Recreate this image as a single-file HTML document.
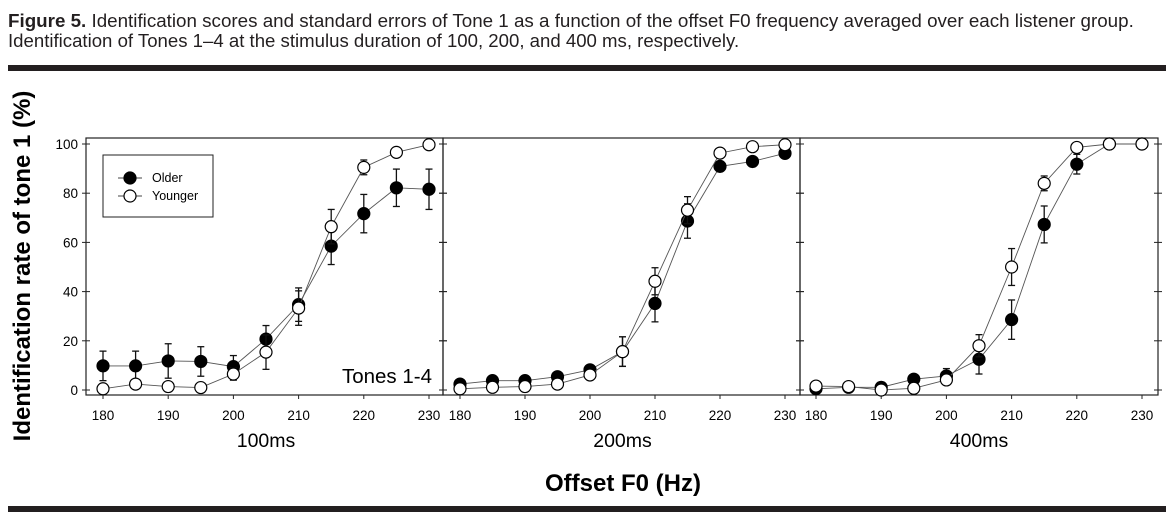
<!DOCTYPE html>
<html><head><meta charset="utf-8">
<style>
html,body{margin:0;padding:0;background:#fff;width:1174px;height:523px;overflow:hidden}
svg{display:block;font-family:"Liberation Sans",Arial,sans-serif}
</style></head>
<body>
<svg id="chart" width="1174" height="523" viewBox="0 0 1174 523">
<text x="8" y="27" font-size="18.8" fill="#231f20"><tspan font-weight="bold">Figure 5.</tspan> Identification scores and standard errors of Tone 1 as a function of the offset F0 frequency averaged over each listener group.</text>
<text x="8" y="47" font-size="18.6" fill="#231f20">Identification of Tones 1–4 at the stimulus duration of 100, 200, and 400 ms, respectively.</text>
<rect x="8" y="65" width="1158" height="6" fill="#231f20"/>
<rect x="8" y="506" width="1158" height="6" fill="#231f20"/>
<text transform="translate(30,266) rotate(-90)" text-anchor="middle" font-size="24" font-weight="bold">Identification rate of tone 1 (%)</text>
<text x="623" y="491" text-anchor="middle" font-size="24" font-weight="bold">Offset F0 (Hz)</text>
<g id="plots"></g>
</svg>
<script>
const xTicks = [180,190,200,210,220,230];
const yTicks = [0,20,40,60,80,100];
const xVals = [180,185,190,195,200,205,210,215,220,225,230];
const panelNames = ["100ms","200ms","400ms"];
const older100 = [9.8,9.8,11.8,11.6,9.5,20.7,34.7,58.5,71.7,82.2,81.6];
const olderErr100 = [6,6,7,6,4.5,5.5,6.8,7.5,7.8,7.6,8.2];
const younger100 = [0.5,2.4,1.4,1,6.5,15.4,33.3,66.4,90.5,96.6,99.7];
const youngerErr100 = [0.5,0.5,0.5,0.5,2.5,7,7,7,3,0.5,0.5];
const older200 = [2.4,3.8,3.8,5.4,8.2,15.6,35.2,68.7,90.9,92.9,96.2];
const olderErr200 = [1,1,1,1.5,2,6,7.5,7,2,2,1.5];
const younger200 = [0.5,1.1,1.4,2.4,6.1,15.6,44.2,73.1,96.3,98.9,99.7];
const youngerErr200 = [0.5,0.5,0.5,0.5,2,6,5.5,5.5,1.5,0.5,0.5];
const older400 = [0.5,1.1,1.1,4.4,5.7,12.5,28.6,67.3,91.8,100,100];
const olderErr400 = [0.5,0.5,0.5,1.5,3,6,8,7.5,4,0.3,0.3];
const younger400 = [1.6,1.4,0,0.7,4.1,18,50,84,98.6,100,100];
const youngerErr400 = [0.5,0.5,0.5,0.5,1,4.5,7.5,3,1,0.3,0.3];
const olderSeries = [older100,older200,older400];
const olderErrs = [olderErr100,olderErr200,olderErr400];
const youngerSeries = [younger100,younger200,younger400];
const youngerErrs = [youngerErr100,youngerErr200,youngerErr400];

const NS="http://www.w3.org/2000/svg";
const root=document.getElementById('plots');
function mk(tag,attrs,parent){const e=document.createElementNS(NS,tag);for(const k in attrs)e.setAttribute(k,attrs[k]);(parent||root).appendChild(e);return e;}
const panels=[{l:86,r:443,x0:103,x1:429},{l:443,r:800,x0:460,x1:785},{l:800,r:1158,x0:816,x1:1142}];
const yTop=138, yBot=395;
function sy(v){return 390-(v/100)*246;}
panels.forEach((p,pi)=>{
  const sx=v=>p.x0+(v-180)/50*(p.x1-p.x0);
  const g=mk('g',{});
  
  
  const frame=mk('rect',{x:p.l,y:yTop,width:p.r-p.l,height:yBot-yTop,fill:'none',stroke:'#222','stroke-width':1.2},g);
  
  
  yTicks.forEach(t=>{
    const y=sy(t);
    mk('line',{x1:p.l-4,x2:p.l,y1:y,y2:y,stroke:'#222'},g);
    mk('line',{x1:p.l,x2:p.l+4,y1:y,y2:y,stroke:'#222'},g);
    mk('line',{x1:p.r-4,x2:p.r+4,y1:y,y2:y,stroke:'#222'},g);
    if(pi===0){const tl=mk('text',{x:78,y:y+5,'text-anchor':'end','font-size':13.5},g);tl.textContent=t;
      
      }
  });
  xTicks.forEach(t=>{
    const x=sx(t);
    mk('line',{x1:x,x2:x,y1:yBot,y2:yBot+4,stroke:'#222'},g);
    const tl=mk('text',{x:x,y:420,'text-anchor':'middle','font-size':13.5},g);tl.textContent=t;
    
    
  });
  const pl=mk('text',{x:(p.x0+p.x1)/2,y:447,'text-anchor':'middle','font-size':19.5},g);pl.textContent=panelNames[pi];
  
  
  [[olderSeries[pi],olderErrs[pi],'#000','older'],[youngerSeries[pi],youngerErrs[pi],'#fff','younger']].forEach(([vals,errs,fill,nm])=>{
    const line=mk('polyline',{points:vals.map((v,i)=>sx(xVals[i])+','+sy(v)).join(' '),fill:'none',stroke:'#555','stroke-width':0.9},g);
    
    
    vals.forEach((v,i)=>{
      const x=sx(xVals[i]),e=errs[i];
      if(e>0.6){
        const a=sy(v+e),b=sy(v-e);
        mk('line',{x1:x,x2:x,y1:a,y2:b,stroke:'#111','stroke-width':1.3},g);
        mk('line',{x1:x-3.5,x2:x+3.5,y1:a,y2:a,stroke:'#111','stroke-width':1.3},g);
        mk('line',{x1:x-3.5,x2:x+3.5,y1:b,y2:b,stroke:'#111','stroke-width':1.3},g);
      }
    });
    vals.forEach((v,i)=>{
      const c=mk('circle',{cx:sx(xVals[i]),cy:sy(v),r:6,fill:fill,stroke:'#000','stroke-width':1.2},g);
      
      
    });
  });
});
const lg=mk('g',{});


mk('rect',{x:103,y:155,width:110,height:62,fill:'#fff',stroke:'#222','stroke-width':1},lg);
[['Older','#000',178],['Younger','#fff',196]].forEach(([n,f,y])=>{
  mk('line',{x1:118,x2:142,y1:y,y2:y,stroke:'#444'},lg);
  mk('circle',{cx:130,cy:y,r:6,fill:f,stroke:'#000','stroke-width':1.2},lg);
  const t=mk('text',{x:152,y:y+4,'font-size':12.5},lg);t.textContent=n;
  
  
});
const tn=mk('text',{x:432,y:383,'text-anchor':'end','font-size':20.5});tn.textContent='Tones 1-4';


</script>
</body></html>
